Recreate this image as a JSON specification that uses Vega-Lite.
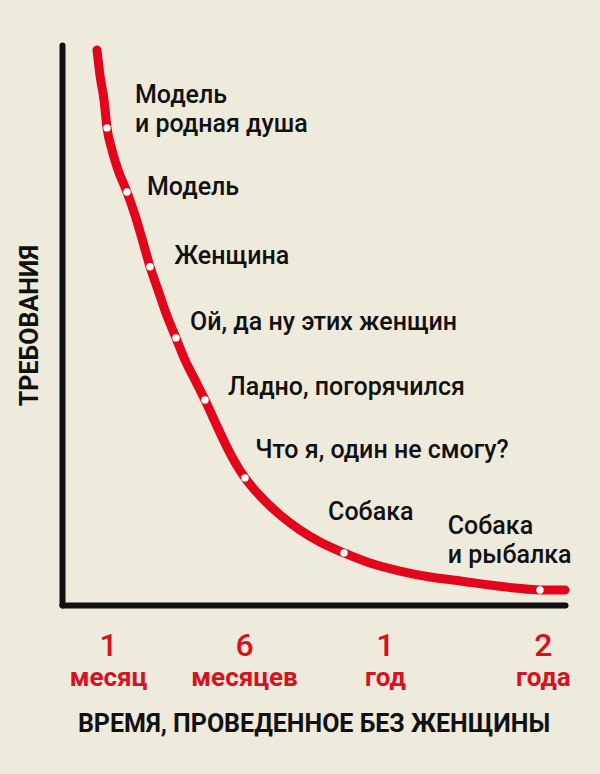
{
  "$schema": "https://vega.github.io/schema/vega-lite/v6.json",
  "width": 503,
  "height": 560,
  "autosize": {"type": "none"},
  "padding": {"left": 62, "top": 45, "right": 35, "bottom": 169},
  "background": "#eeeadc",
  "config": {
    "view": {"stroke": null},
    "font": "Roboto"
  },
  "datasets": {
    "curve": [
      {"t": 6.96, "r": 99.1, "dot": false},
      {"t": 7.55, "r": 94.6, "dot": false},
      {"t": 8.35, "r": 90.2, "dot": false},
      {"t": 8.95, "r": 85.2, "dot": true},
      {"t": 9.94, "r": 81.25, "dot": false},
      {"t": 11.13, "r": 77.7, "dot": false},
      {"t": 12.92, "r": 73.75, "dot": true},
      {"t": 14.51, "r": 69.6, "dot": false},
      {"t": 16.1, "r": 64.8, "dot": false},
      {"t": 17.5, "r": 60.4, "dot": true},
      {"t": 19.09, "r": 56.25, "dot": false},
      {"t": 20.68, "r": 52.1, "dot": false},
      {"t": 22.66, "r": 47.7, "dot": true},
      {"t": 24.45, "r": 43.75, "dot": false},
      {"t": 26.44, "r": 40.2, "dot": false},
      {"t": 28.43, "r": 36.6, "dot": true},
      {"t": 30.42, "r": 32.7, "dot": false},
      {"t": 32.41, "r": 28.9, "dot": false},
      {"t": 34.39, "r": 25.5, "dot": false},
      {"t": 36.38, "r": 22.7, "dot": true},
      {"t": 39.36, "r": 19.5, "dot": false},
      {"t": 43.34, "r": 16.1, "dot": false},
      {"t": 47.32, "r": 13.4, "dot": false},
      {"t": 51.29, "r": 11.25, "dot": false},
      {"t": 56.06, "r": 9.3, "dot": true},
      {"t": 61.23, "r": 7.5, "dot": false},
      {"t": 67.2, "r": 6.07, "dot": false},
      {"t": 73.16, "r": 5.0, "dot": false},
      {"t": 79.13, "r": 4.3, "dot": false},
      {"t": 85.09, "r": 3.57, "dot": false},
      {"t": 90.06, "r": 3.04, "dot": false},
      {"t": 95.03, "r": 2.68, "dot": true},
      {"t": 100, "r": 2.68, "dot": false}
    ],
    "notes": [
      {"t": 14.51, "r": 89.6, "label": ["Модель", "и родная душа"]},
      {"t": 16.9, "r": 73.2, "label": ["Модель"]},
      {"t": 22.3, "r": 60.9, "label": ["Женщина"]},
      {"t": 25.45, "r": 49.1, "label": ["Ой, да ну этих женщин"]},
      {"t": 33.0, "r": 37.5, "label": ["Ладно, погорячился"]},
      {"t": 38.4, "r": 26.25, "label": ["Что я, один не смогу?"]},
      {"t": 52.9, "r": 15.2, "label": ["Собака"]},
      {"t": 76.7, "r": 12.7, "label": ["Собака", "и рыбалка"]}
    ]
  },
  "resolve": {"axis": {"x": "independent", "y": "independent"}},
  "layer": [
    {
      "data": {"name": "curve"},
      "mark": {"type": "line", "color": "#e3051b", "strokeWidth": 9, "strokeCap": "round", "strokeJoin": "round", "interpolate": "monotone"},
      "encoding": {
        "x": {
          "field": "t", "type": "quantitative",
          "scale": {"domain": [0, 100], "nice": false, "zero": false},
          "axis": {
            "orient": "bottom",
            "values": [9.15, 36.2, 64.2, 95.6],
            "labelExpr": "datum.value < 20 ? '1' : datum.value < 50 ? '6' : datum.value < 80 ? '1' : '2'",
            "domain": true, "domainColor": "#111111", "domainWidth": 6, "domainCap": "round",
            "ticks": false, "grid": false,
            "labelColor": "#d9101f", "labelFontSize": 32, "labelFontWeight": 500, "labelPadding": 25,
            "labelFont": "Roboto",
            "title": null
          }
        },
        "y": {
          "field": "r", "type": "quantitative",
          "scale": {"domain": [0, 100], "nice": false, "zero": false},
          "axis": {
            "domain": true, "domainColor": "#111111", "domainWidth": 6, "domainCap": "round",
            "ticks": false, "labels": false, "grid": false,
            "title": "ТРЕБОВАНИЯ", "titleFontSize": 25, "titleFontWeight": "bold",
            "titleColor": "#111111", "titlePadding": 20,
            "titleFont": "Roboto"
          }
        }
      }
    },
    {
      "data": {"name": "curve"},
      "transform": [{"filter": "datum.dot"}],
      "mark": {"type": "point", "filled": true, "color": "#ffffff", "opacity": 1, "size": 55},
      "encoding": {
        "x": {"field": "t", "type": "quantitative", "axis": null},
        "y": {"field": "r", "type": "quantitative", "axis": null}
      }
    },
    {
      "data": {"name": "notes"},
      "mark": {"type": "text", "align": "left", "baseline": "alphabetic", "fontSize": 25, "fontWeight": 500, "lineHeight": 29, "color": "#111111", "font": "Roboto"},
      "encoding": {
        "x": {
          "field": "t", "type": "quantitative",
          "axis": {
            "orient": "bottom",
            "values": [9.15, 36.2, 64.2, 95.6],
            "labelExpr": "datum.value < 20 ? 'месяц' : datum.value < 50 ? 'месяцев' : datum.value < 80 ? 'год' : 'года'",
            "domain": false, "ticks": false, "grid": false,
            "labelColor": "#d9101f", "labelFontSize": 26, "labelFontWeight": "bold", "labelPadding": 59,
            "labelFont": "Roboto",
            "title": "ВРЕМЯ, ПРОВЕДЕННОЕ БЕЗ ЖЕНЩИНЫ", "titleFontSize": 25, "titleFontWeight": "bold",
            "titleColor": "#111111", "titlePadding": 21,
            "titleFont": "Roboto"
          }
        },
        "y": {"field": "r", "type": "quantitative", "axis": null},
        "text": {"field": "label"}
      }
    }
  ]
}
